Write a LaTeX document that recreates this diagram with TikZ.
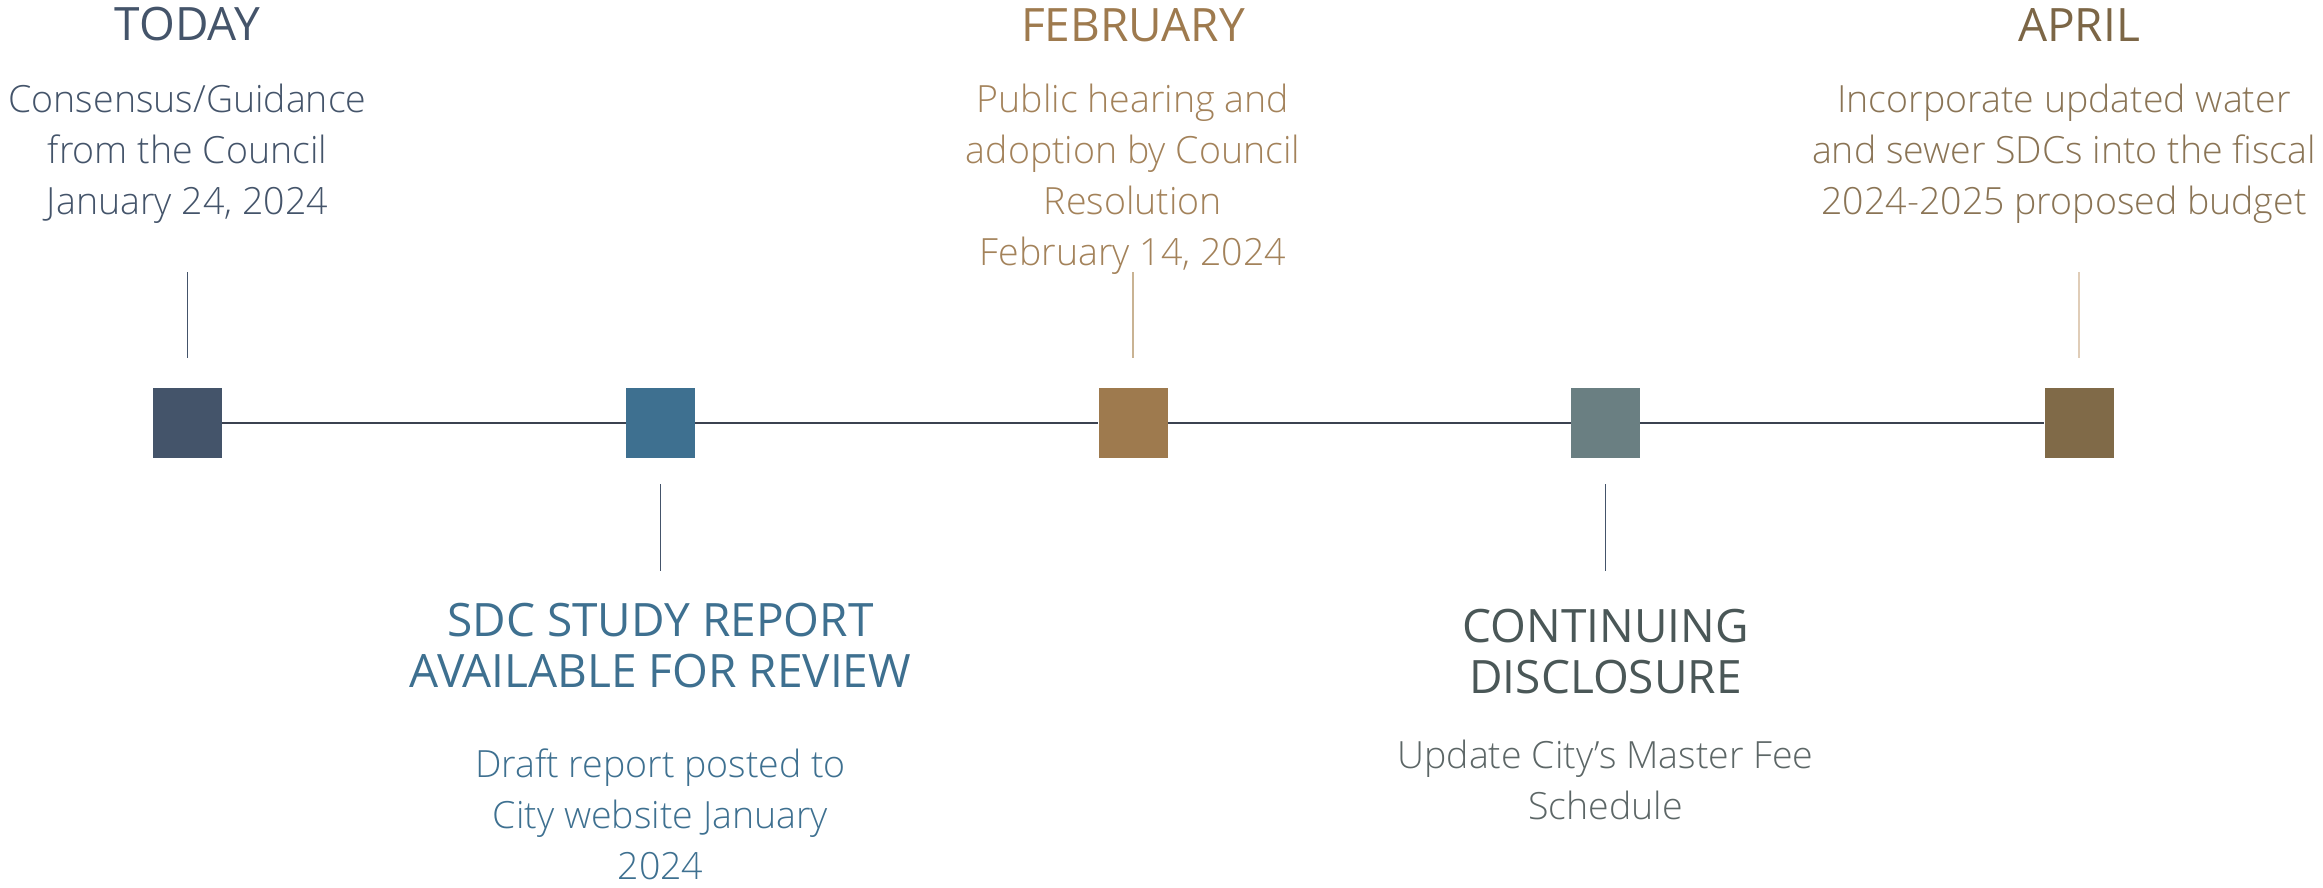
\documentclass[tikz,border=0pt]{standalone}
\usepackage{fontspec}
\setmainfont{Open Sans Light}
\newfontfamily\headfont{Open Sans}
\definecolor{slate}{HTML}{44546A}
\definecolor{steel}{HTML}{3E7090}
\definecolor{tan}{HTML}{9E7A4E}
\definecolor{tandesc}{HTML}{A3825A}
\definecolor{tantick}{HTML}{C9B393}
\definecolor{grayteal}{HTML}{6A7F82}
\definecolor{darkgray}{HTML}{4A5757}
\definecolor{graydesc}{HTML}{5C6666}
\definecolor{brown}{HTML}{806A48}
\definecolor{browntext}{HTML}{7C6646}
\definecolor{browndesc}{HTML}{8A7455}
\definecolor{browntick}{HTML}{E0CDB8}
\definecolor{axis}{HTML}{3B4250}
\tikzset{
  marker/.style={rectangle, minimum width=69pt, minimum height=70pt, inner sep=0pt, draw=none, fill=#1},
  head/.style={font=\headfont\fontsize{46}{51}\selectfont, align=center, anchor=base, inner sep=0pt, text=#1},
  desc/.style={font=\fontsize{37.5}{51}\selectfont, align=center, anchor=base, inner sep=0pt, text=#1},
  axisline/.style={draw=axis, line width=2pt},
  tick/.style={draw=#1, line width=1.5pt}
}
\begin{document}
\begin{tikzpicture}[x=1pt,y=-1pt]
\useasboundingbox (0,0) rectangle (2323,888);
% markers
\node[marker=slate]    (s1) at (187.5,423) {};
\node[marker=steel]    (s2) at (660.5,423) {};
\node[marker=tan]      (s3) at (1133,423) {};
\node[marker=grayteal] (s4) at (1605.5,423) {};
\node[marker=brown]    (s5) at (2079,423) {};
% axis
\draw[axisline] (s1) -- (s2);
\draw[axisline] (s2) -- (s3);
\draw[axisline] (s3) -- (s4);
\draw[axisline] (s4) -- (s5);
% ticks
\coordinate (t1a) at (187.5,272); \coordinate (t1b) at (187.5,358);
\coordinate (t3a) at (1133,272);  \coordinate (t3b) at (1133,358);
\coordinate (t5a) at (2079,272);  \coordinate (t5b) at (2079,358);
\coordinate (t2a) at (660.5,484); \coordinate (t2b) at (660.5,571);
\coordinate (t4a) at (1605.5,484); \coordinate (t4b) at (1605.5,571);
\draw[tick=slate] (t1a) -- (t1b);
\draw[tick=tantick] (t3a) -- (t3b);
\draw[tick=browntick] (t5a) -- (t5b);
\draw[tick=slate] (t2a) -- (t2b);
\draw[tick=slate] (t4a) -- (t4b);
% texts (multi-line nodes are placed by the baseline of their last line)
\node[head=slate] (h1) at (187.5,41) {TODAY};
\node[desc=slate] (d1) at (187.5,214) {Consensus/Guidance\\from the Council\\January 24, 2024};
\node[head=steel] (h2) at (660.5,687) {SDC STUDY REPORT\\AVAILABLE FOR REVIEW};
\node[desc=steel] (d2) at (660.5,879) {Draft report posted to\\City website January\\2024};
\node[head=tan] (h3) at (1133,42) {FEBRUARY};
\node[desc=tandesc] (d3) at (1133,265) {Public hearing and\\adoption by Council\\Resolution\\February 14, 2024};
\node[head=darkgray] (h4) at (1605.5,693) {CONTINUING\\DISCLOSURE};
\node[desc=graydesc] (d4) at (1605.5,819) {Update City’s Master Fee\\Schedule};
\node[head=browntext] (h5) at (2079,42) {APRIL};
\node[desc=browndesc] (d5) at (2064,214) {Incorporate updated water\\and sewer SDCs into the fiscal\\2024-2025 proposed budget};
\end{tikzpicture}
\end{document}
